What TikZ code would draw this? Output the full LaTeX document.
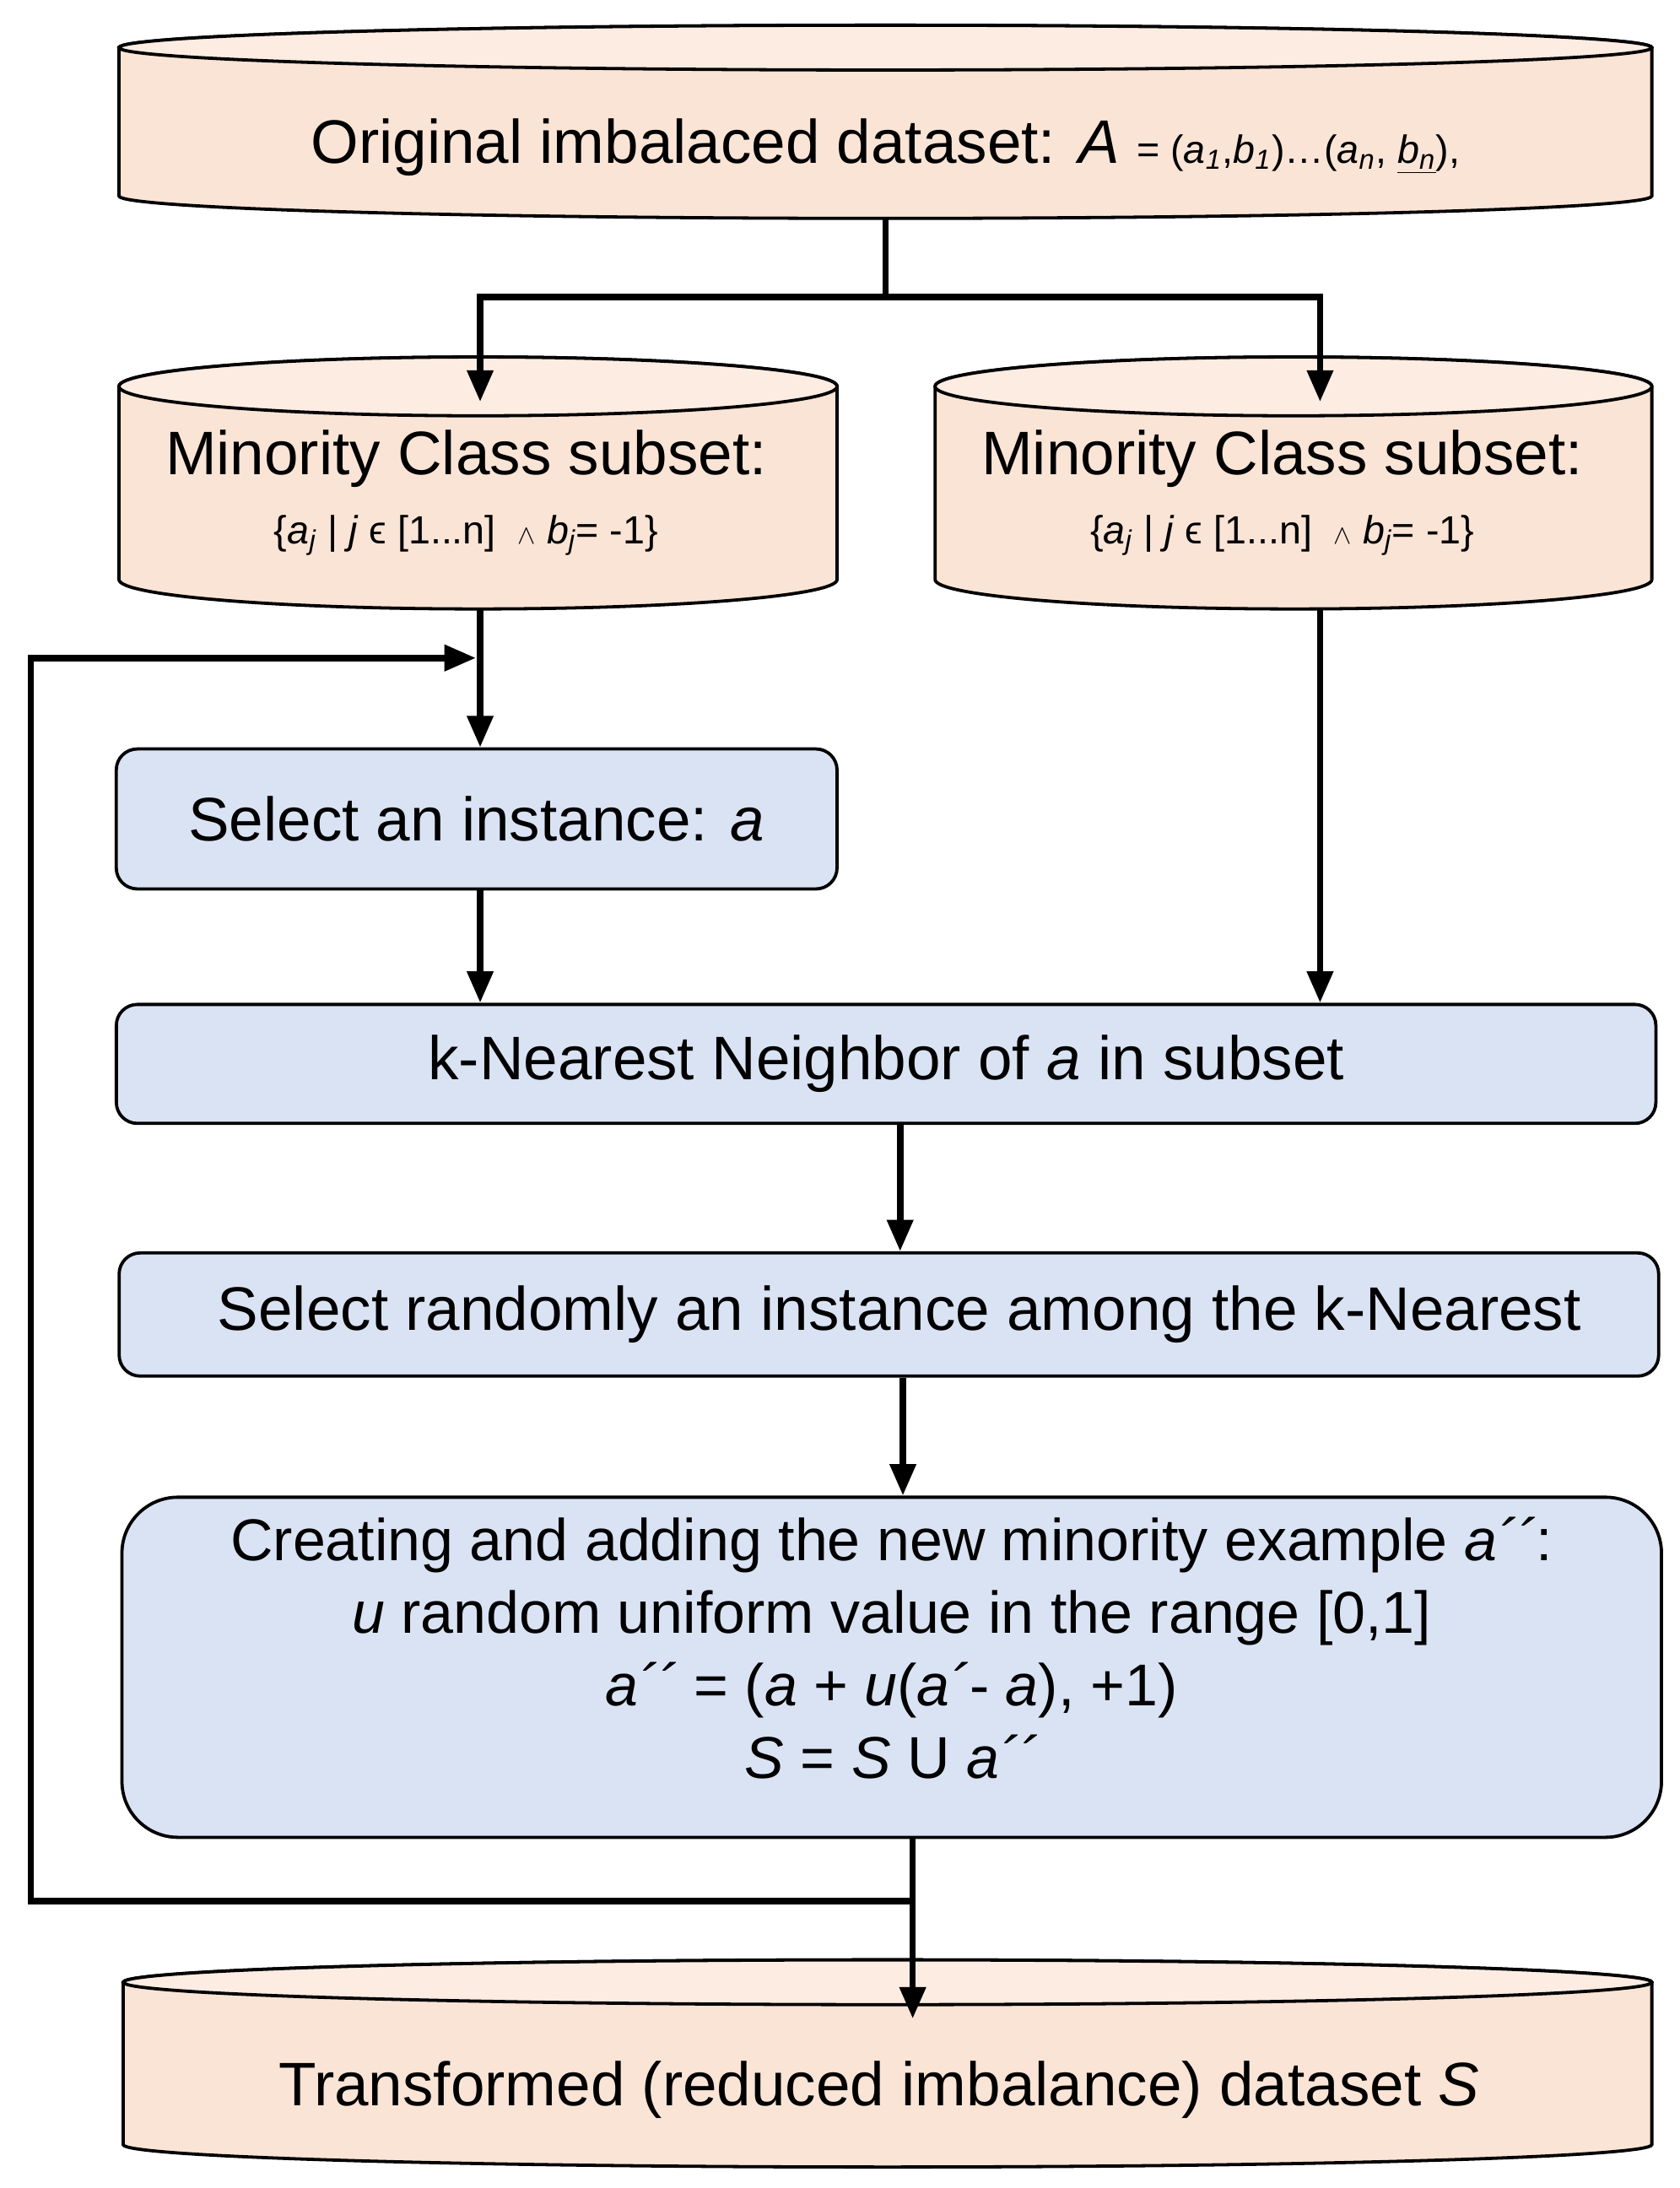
\documentclass[tikz,border=0pt]{standalone}
\usepackage{fontspec}
\setmainfont{Liberation Sans}
\usetikzlibrary{arrows.meta, positioning}

\definecolor{peach}{RGB}{250,228,214}
\definecolor{peachtop}{RGB}{252,236,226}
\definecolor{paleblue}{RGB}{218,227,243}

% cylinder: name, centre x, x radius, top y, bottom y, y radius
\newcommand{\dbcyl}[6]{%
    \filldraw[cyl] ({#2-#3},#4) -- ({#2-#3},#5) arc[start angle=180, end angle=360, x radius=#3, y radius=#6]
        -- ({#2+#3},#4) arc[start angle=0, end angle=180, x radius=#3, y radius=#6] -- cycle;
    \filldraw[cyl, fill=peachtop] (#2,#4) ellipse[x radius=#3, y radius=#6];
    \coordinate (#1-c) at (#2,{(#4+#5)/2});
}
\newcommand{\subsetrule}{{\fontsize{16}{20}\selectfont \{\textit{a\textsubscript{j}} | \textit{j} ϵ [1...n]\ \ $\scriptstyle\wedge$ \textit{b\textsubscript{j}}= -1\}}}

\tikzset{
    cyl/.style={draw=black, line width=1.3pt, fill=peach},
    proc/.style={draw=black, line width=1.3pt, fill=paleblue, rounded corners=0.3cm, align=center},
    big/.style={font=\fontsize{25}{30}\selectfont},
    flow/.style={line width=2.6pt, -{Triangle[length=0.45cm, width=0.36cm]}},
    wire/.style={line width=2.6pt},
}

\begin{document}
\begin{tikzpicture}[x=0.02cm, y=0.02cm]
    \useasboundingbox (0,0) rectangle (1200,-1563);
    % data stores
    \dbcyl{orig}{632.5}{547.5}{-34}{-140}{16}
    \node[big] (origtxt) at (632.5,-105)
        {Original imbalaced dataset: \textit{A} {\fontsize{16}{18}\selectfont = (\textit{a\textsubscript{1}},\textit{b\textsubscript{1}})\ldots(\textit{a\textsubscript{n}}, \underline{\textit{b\textsubscript{n}}}),}};
    \dbcyl{lmin}{341.5}{256.5}{-276}{-414}{21}
    \node[big, align=center] (lmintxt) at (333,-352) {Minority Class subset:\\[-2pt] \subsetrule};
    \dbcyl{rmin}{924}{256}{-276}{-414}{21}
    \node[big, align=center] (rmintxt) at (916,-352) {Minority Class subset:\\[-2pt] \subsetrule};
    \dbcyl{outs}{634}{546}{-1416}{-1532}{16}
    \node[big] (outstxt) at (628,-1493) {Transformed (reduced imbalance) dataset \textit{S}};
    % steps
    \node[proc, big, minimum width=10.3cm, minimum height=2cm] (sel) at (340.5,-585)
        {Select an instance: \textit{a}};
    \node[proc, big, minimum width=22cm, minimum height=1.7cm] (knn) at (633,-760)
        {k-Nearest Neighbor of \textit{a} in subset};
    \node[proc, big, minimum width=22cm, minimum height=1.76cm] (rnd) at (635,-939)
        {\hspace{0.3cm}Select randomly an instance among the k-Nearest};
    \node[proc, rounded corners=0.8cm, minimum width=22cm, minimum height=4.86cm] (crt) at (637,-1191) {};
    \node[align=center, font=\fontsize{24}{29.5}\selectfont] (crttxt) at (637,-1177)
        {Creating and adding the new minority example \textit{a´´}:\\
         \textit{u} random uniform value in the range [0,1]\\
         \textit{a´´} = (\textit{a} + \textit{u}(\textit{a´}- \textit{a}), +1)\\
         \textit{S} = \textit{S} U \textit{a´´}};
    % connectors
    \coordinate (lin) at (343,-287);
    \coordinate (rin) at (943,-287);
    \coordinate (lout) at (343,-435);
    \coordinate (rout) at (943,-435);
    \coordinate (split) at (632.5,-212);
    \coordinate (loop) at (652,-1358);
    \coordinate (sin) at (652,-1442);
    \draw[wire] (632.5,-156) -- (split);
    \draw[flow] (split) -| (lin);
    \draw[flow] (split) -| (rin);
    \draw[flow] (lout) -- (sel.north -| lout);
    \draw[flow] (sel.south -| lout) -- (knn.north -| lout);
    \draw[flow] (rout) -- (knn.north -| rout);
    \draw[flow] (knn.south -| 643,0) -- (rnd.north -| 643,0);
    \draw[flow] (rnd.south -| 645,0) -- (crt.north -| 645,0);
    \draw[flow] (crt.south -| loop) -- (sin);
    \draw[flow] (loop) -- (22,-1358) |- (340,-470);
\end{tikzpicture}
\end{document}
